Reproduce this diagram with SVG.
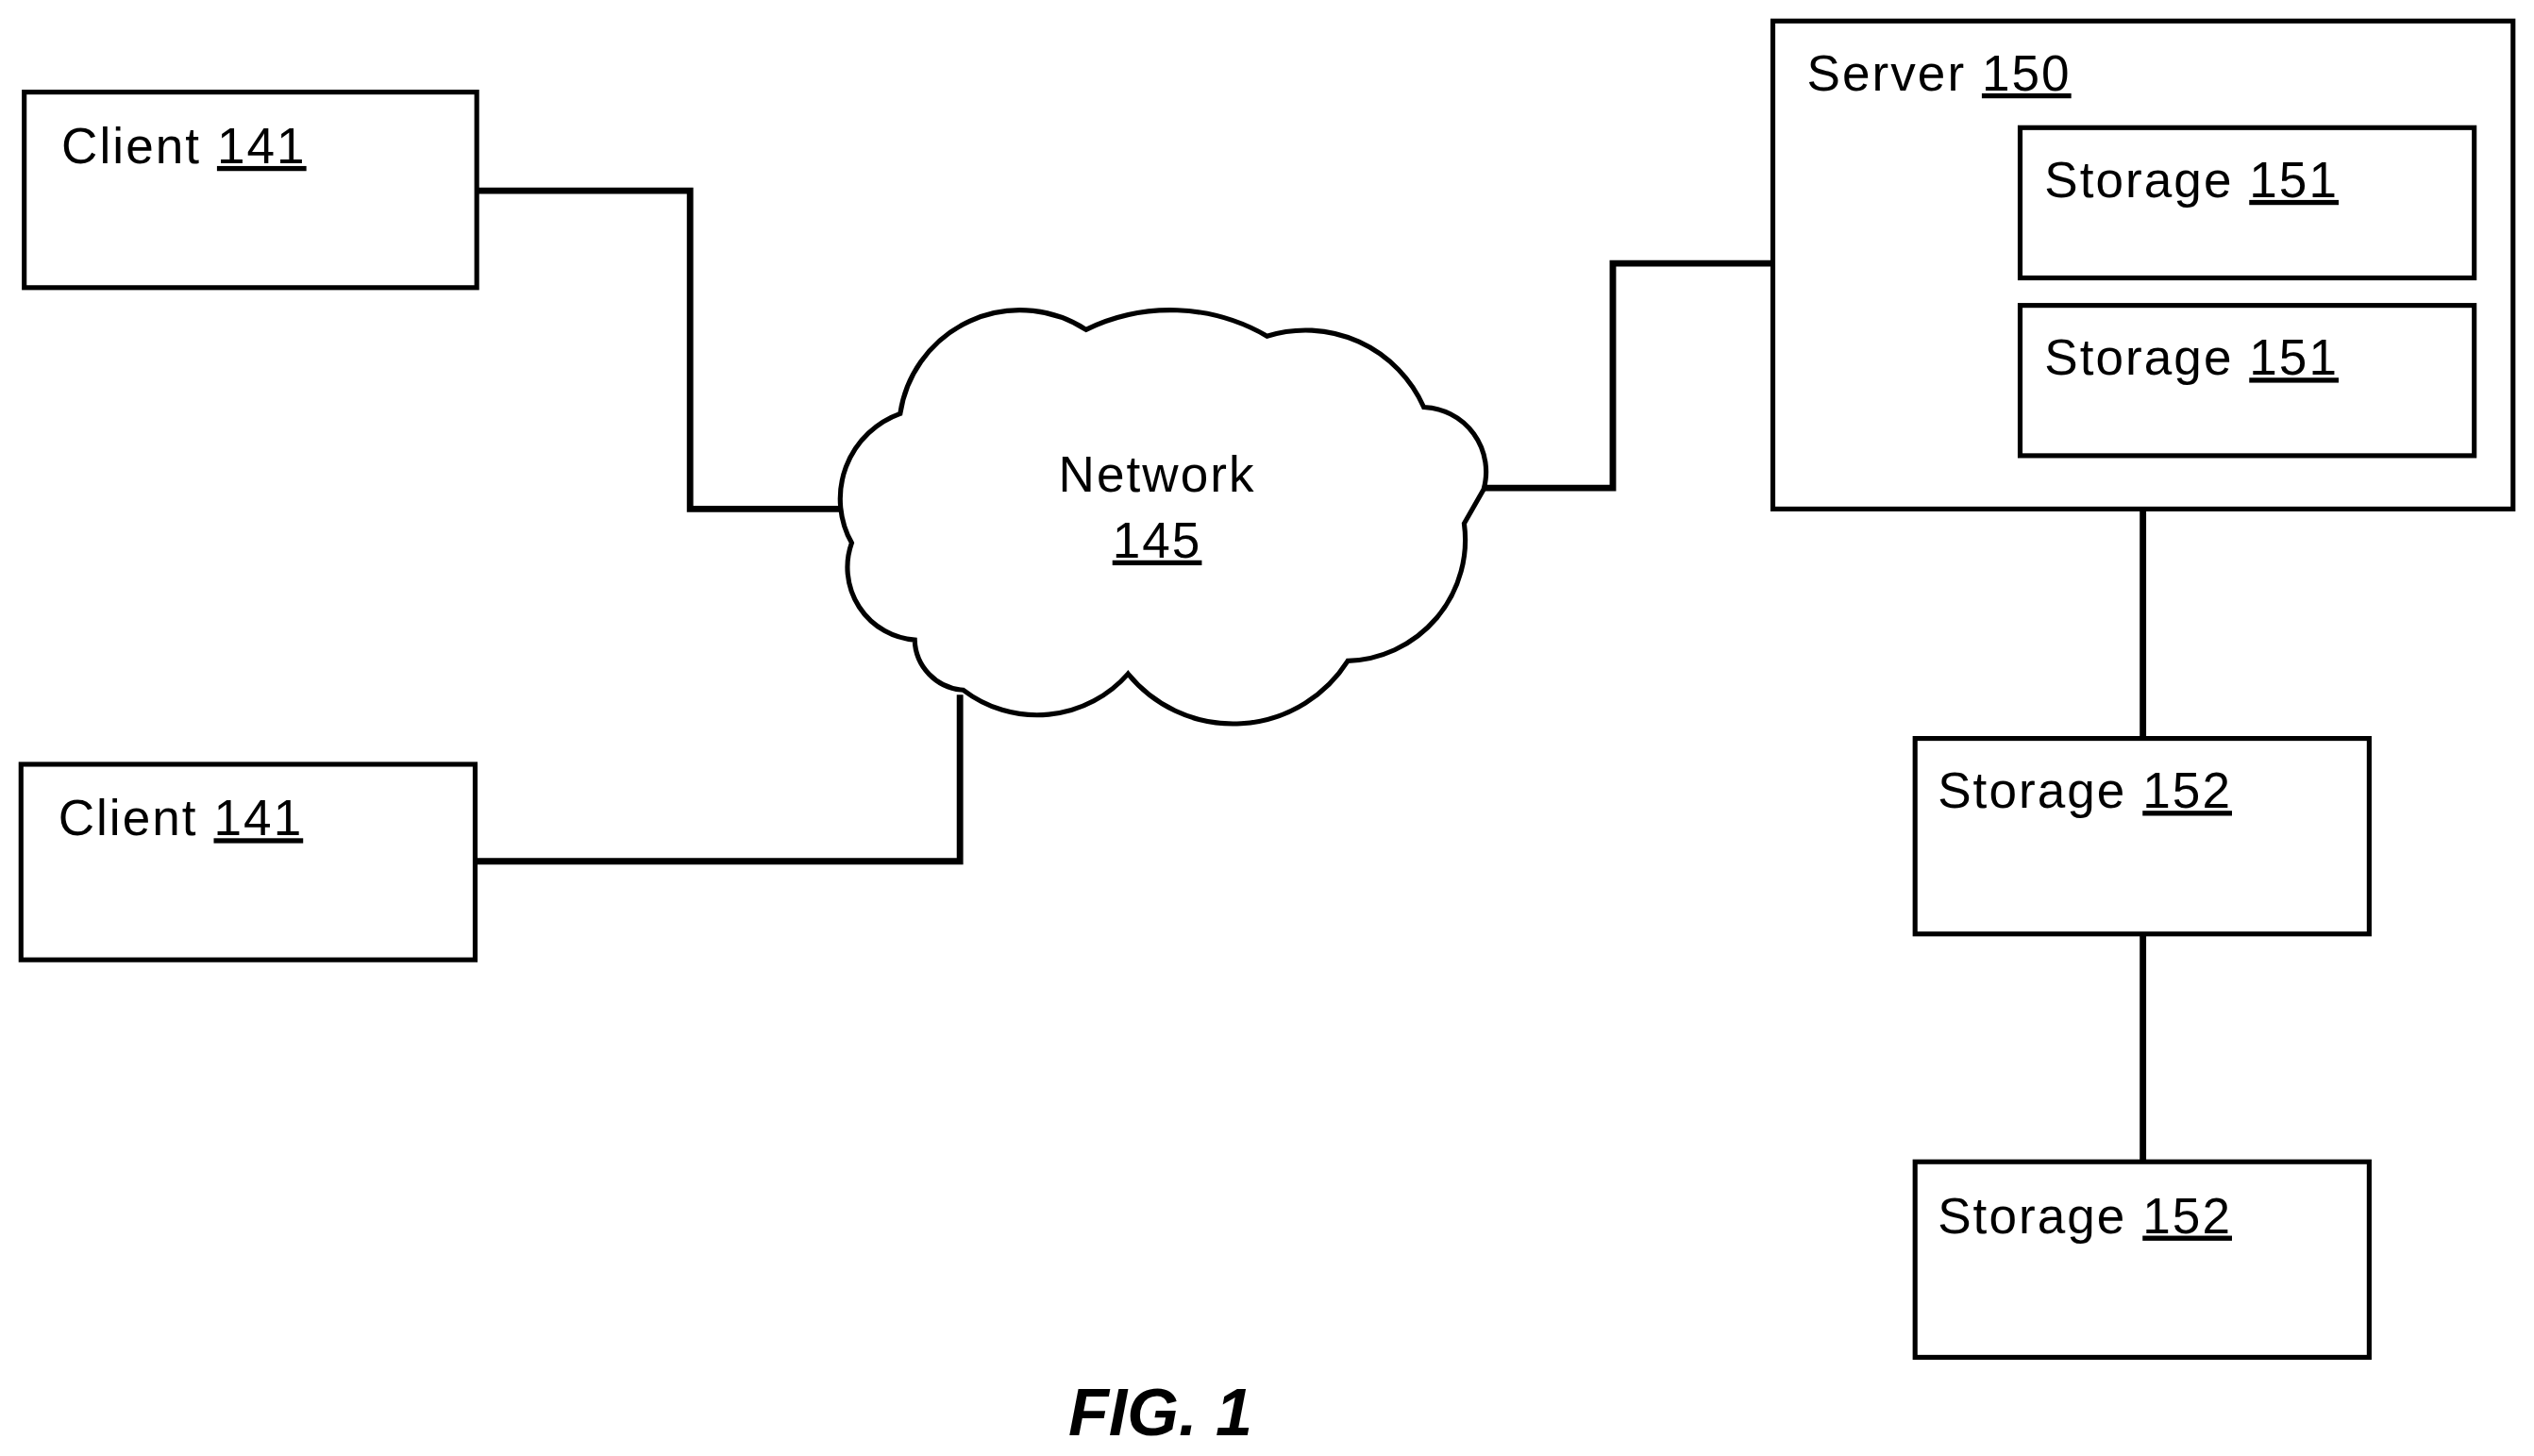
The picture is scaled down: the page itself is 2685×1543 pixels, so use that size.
<svg xmlns="http://www.w3.org/2000/svg" width="2685" height="1543" viewBox="0 0 2685 1543">
<style>
.box{fill:#fff;stroke:#000;stroke-width:3}
.ln{fill:none;stroke:#000;stroke-width:4;stroke-linejoin:miter}
.t{font-family:"Liberation Sans",Arial,sans-serif;font-size:31px;fill:#000;letter-spacing:1.2px}
.u{text-decoration:underline}
.fig{font-family:"Liberation Sans",Arial,sans-serif;font-size:41px;font-weight:bold;font-style:italic}
</style>
<rect width="2685" height="1543" fill="#fff"/>
<g transform="scale(1.7124)">
<g id="connectors">
<polyline class="ln" points="295,118 427,118 427,315 520,315"/>
<polyline class="ln" points="294,533 594,533 594,430"/>
<polyline class="ln" points="916,302 998,302 998,163 1097,163"/>
<line class="ln" x1="1326" y1="315" x2="1326" y2="457"/>
<line class="ln" x1="1326" y1="578" x2="1326" y2="719"/>
</g>
<g id="client1"><rect class="box" x="15" y="57" width="280" height="121"/><text class="t" x="38" y="101">Client <tspan class="u">141</tspan></text></g>
<g id="client2"><rect class="box" x="13" y="473" width="281" height="121"/><text class="t" x="36" y="517">Client <tspan class="u">141</tspan></text></g>
<g id="network">
<path class="box" d="M527,336 A56,56 0 0 1 557,256 A75,75 0 0 1 672,204 A119,119 0 0 1 784,208 A80,80 0 0 1 881,252 A40,40 0 0 1 918,303 L906,324 A75,75 0 0 1 834,409 A84,84 0 0 1 698,417 A75,75 0 0 1 596,427 A32,32 0 0 1 566,396 A45,45 0 0 1 527,336 Z"/>
<text class="t" x="716" y="304" text-anchor="middle">Network</text>
<text class="t u" x="716" y="345" text-anchor="middle">145</text>
</g>
<g id="server"><rect class="box" x="1097" y="13" width="458" height="302"/><text class="t" x="1118" y="56">Server <tspan class="u">150</tspan></text></g>
<g id="storage151a"><rect class="box" x="1250" y="79" width="281" height="93"/><text class="t" x="1265" y="122">Storage <tspan class="u">151</tspan></text></g>
<g id="storage151b"><rect class="box" x="1250" y="189" width="281" height="93"/><text class="t" x="1265" y="232">Storage <tspan class="u">151</tspan></text></g>
<g id="storage152a"><rect class="box" x="1185" y="457" width="281" height="121"/><text class="t" x="1199" y="500">Storage <tspan class="u">152</tspan></text></g>
<g id="storage152b"><rect class="box" x="1185" y="719" width="281" height="121"/><text class="t" x="1199" y="763">Storage <tspan class="u">152</tspan></text></g>
<text class="fig" x="718" y="888" text-anchor="middle">FIG. 1</text>
</g>
</svg>
